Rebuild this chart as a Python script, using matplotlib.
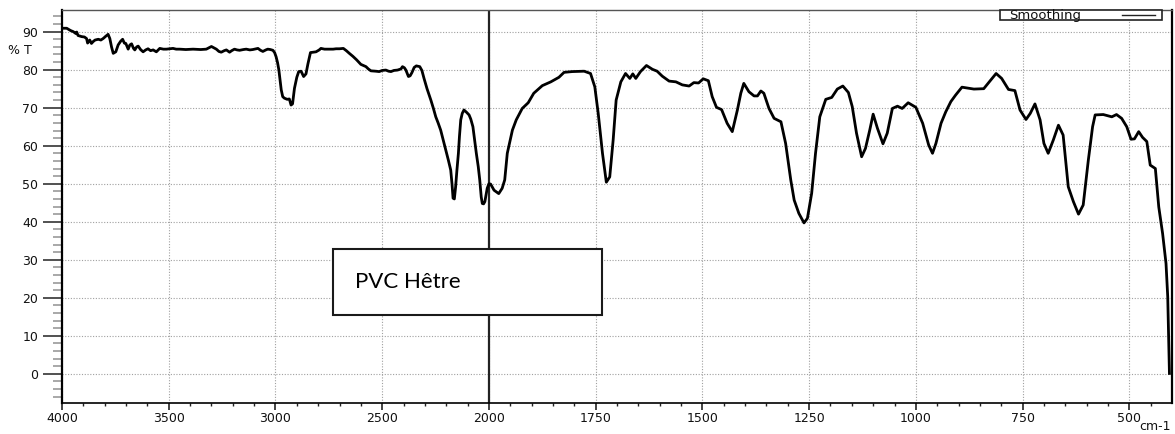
import numpy as np
import matplotlib
matplotlib.use("Agg")
import matplotlib.pyplot as plt
from matplotlib.patches import Rectangle
from matplotlib.ticker import FixedLocator, MultipleLocator

# spectrum: wavenumber (cm-1) and %T
wavenumber = [
    4000, 3978, 3960, 3947, 3935, 3931, 3925, 3908, 3895, 3885, 3880, 3870,
    3862, 3854, 3845, 3830, 3818, 3807, 3795, 3784, 3776, 3768, 3760, 3748,
    3737, 3725, 3716, 3708, 3701, 3690, 3682, 3674, 3665, 3659, 3650, 3643,
    3632, 3620, 3608, 3597, 3585, 3573, 3558, 3542, 3525, 3511, 3495, 3480,
    3465, 3449, 3420, 3386, 3350, 3324, 3300, 3290, 3277, 3265, 3254, 3240,
    3230, 3215, 3205, 3192, 3180, 3168, 3150, 3137, 3120, 3106, 3090, 3082,
    3070, 3059, 3045, 3036, 3024, 3012, 3004, 2997, 2990, 2984, 2978, 2973,
    2966, 2958, 2945, 2935, 2927, 2920, 2911, 2900, 2891, 2880, 2868, 2857,
    2848, 2836, 2822, 2810, 2795, 2787, 2770, 2748, 2730, 2716, 2700, 2682,
    2668, 2654, 2637, 2620, 2600, 2576, 2565, 2553, 2530, 2514, 2500, 2483,
    2470, 2459, 2445, 2428, 2412, 2405, 2396, 2389, 2377, 2369, 2361, 2350,
    2340, 2324, 2314, 2304, 2290, 2272, 2260, 2249, 2238, 2226, 2214, 2202,
    2190, 2179, 2173, 2168, 2162, 2156, 2150, 2143, 2138, 2132, 2125, 2117,
    2105, 2093, 2085, 2075, 2067, 2059, 2050, 2043, 2036, 2031, 2025, 2019,
    2012, 2008, 2000, 1996, 1988, 1977, 1969, 1963, 1957, 1945, 1936, 1922,
    1908, 1895, 1875, 1855, 1836, 1824, 1805, 1777, 1762, 1752, 1744, 1734,
    1725, 1717, 1709, 1702, 1691, 1680, 1670, 1663, 1656, 1645, 1631, 1617,
    1606, 1594, 1578, 1562, 1547, 1531, 1520, 1509, 1498, 1486, 1477, 1467,
    1455, 1442, 1430, 1418, 1410, 1403, 1391, 1379, 1371, 1363, 1356, 1344,
    1332, 1316, 1305, 1293, 1285, 1274, 1262, 1254, 1244, 1235, 1225, 1211,
    1197, 1184, 1171, 1158, 1149, 1139, 1127, 1118, 1108, 1100, 1090, 1077,
    1067, 1055, 1043, 1032, 1018, 1000, 984, 970, 961, 953, 941, 930,
    918, 907, 892, 864, 841, 828, 812, 799, 783, 768, 756, 742,
    732, 721, 709, 700, 690, 678, 666, 655, 643, 631, 619, 608,
    596, 586, 580, 561, 541, 530, 518, 506, 496, 488, 478, 469,
    459, 451, 439, 431, 422, 414, 410, 406,
]
transmittance = [
    90.9, 90.9, 90.3, 90.0, 89.5, 89.9, 89.0, 88.7, 88.6, 88.2, 87.0, 87.8,
    86.9, 87.4, 87.8, 88.0, 87.8, 88.2, 88.8, 89.3, 88.2, 86.0, 84.3, 84.7,
    86.5, 87.5, 88.0, 87.0, 86.9, 85.4, 86.5, 86.8, 85.6, 85.2, 86.0, 86.2,
    85.3, 84.7, 85.2, 85.5, 85.0, 85.2, 84.7, 85.6, 85.4, 85.4, 85.5, 85.6,
    85.4, 85.4, 85.3, 85.4, 85.3, 85.4, 86.1, 85.8, 85.4, 84.8, 84.6, 85.0,
    85.2, 84.6, 85.0, 85.4, 85.2, 85.1, 85.3, 85.4, 85.2, 85.3, 85.5, 85.6,
    85.1, 84.8, 85.2, 85.4, 85.3, 85.1, 84.5, 83.4, 81.8, 79.9, 77.0, 74.7,
    72.9, 72.5, 72.2, 72.3, 70.7, 71.0, 75.1, 78.0, 79.5, 79.6, 78.2, 78.9,
    81.5, 84.5, 84.6, 84.7, 85.2, 85.6, 85.4, 85.4, 85.4, 85.5, 85.5, 85.6,
    85.0, 84.3, 83.5, 82.6, 81.4, 80.8, 80.2, 79.7, 79.6, 79.5, 79.8, 79.9,
    79.6, 79.5, 79.8, 79.9, 80.2, 80.8, 80.5, 79.9, 78.2, 78.4, 79.2, 80.6,
    81.0, 80.8, 79.8, 77.7, 75.0, 72.0, 69.8, 67.6, 66.0, 64.1, 61.5, 58.9,
    56.2, 53.6, 50.0, 46.2, 46.0, 49.2, 53.5, 58.0, 62.5, 66.8, 68.5, 69.4,
    68.8, 68.1, 67.0, 65.0, 61.5, 58.0, 54.5, 51.0, 46.5, 44.8, 44.7, 45.3,
    47.5, 48.8, 50.0, 49.9, 48.3, 47.4, 48.8, 51.0, 58.0, 64.1, 66.8, 69.8,
    71.3, 73.8, 75.8, 76.8, 78.0, 79.3, 79.5, 79.6, 79.0, 75.5, 68.5, 58.0,
    50.4, 51.8, 61.5, 72.0, 76.8, 79.0, 77.7, 78.9, 77.7, 79.5, 81.1, 80.1,
    79.6, 78.3, 77.0, 76.8, 76.0, 75.7, 76.6, 76.5, 77.6, 77.1, 72.9, 70.1,
    69.5, 65.9, 63.7, 69.4, 73.8, 76.4, 74.2, 73.1, 73.1, 74.4, 73.8, 69.8,
    67.2, 66.3, 60.6, 51.0, 45.7, 42.2, 39.7, 40.9, 47.5, 58.0, 67.6, 72.2,
    72.7, 74.9, 75.7, 74.0, 70.3, 63.3, 57.1, 59.3, 64.1, 68.3, 64.6, 60.5,
    63.3, 69.8, 70.4, 69.8, 71.3, 70.1, 65.9, 60.2, 58.0, 60.6, 65.9, 68.9,
    71.6, 73.3, 75.4, 74.9, 75.0, 76.8, 79.0, 77.7, 74.8, 74.5, 69.4, 66.9,
    68.5, 71.0, 66.8, 60.6, 58.0, 61.5, 65.4, 62.8, 49.2, 45.3, 42.0, 44.4,
    56.2, 65.0, 68.1, 68.2, 67.6, 68.2, 67.2, 65.0, 61.7, 61.8, 63.7, 62.2,
    61.1, 54.9, 54.0, 43.9, 36.9, 29.0, 20.3, 0.1,
]

x_major = [4000, 3500, 3000, 2500, 2000, 1750, 1500, 1250, 1000, 750, 500]
x_minor = list(range(3900, 2000, -100)) + list(range(1950, 400, -50))
y_major = [0, 10, 20, 30, 40, 50, 60, 70, 80, 90]


# scale is expanded x2 below 2000 cm-1
def forward(x):
    x = np.asarray(x, dtype=float)
    return np.where(x >= 2000, x, 2 * x - 2000)


def inverse(u):
    u = np.asarray(u, dtype=float)
    return np.where(u >= 2000, u, (u + 2000) / 2)


fig = plt.figure(figsize=(11.75, 4.34), dpi=100)
ax = fig.add_axes([62 / 1175, 31.3 / 434, 1110 / 1175, 392.7 / 434])

ax.set_xscale('function', functions=(forward, inverse))
ax.set_xlim(4000, 400)
ax.set_ylim(-7.6, 95.7)

ax.plot(wavenumber, transmittance, color='black', lw=2.0, zorder=3)

ax.xaxis.set_major_locator(FixedLocator(x_major))
ax.xaxis.set_minor_locator(FixedLocator([m for m in x_minor if m not in x_major]))
ax.set_xticklabels([str(v) for v in x_major])
ax.yaxis.set_major_locator(FixedLocator(y_major))
ax.yaxis.set_minor_locator(MultipleLocator(2))

ax.grid(True, which='major', color='#a0a0a0', lw=0.8, linestyle=(0, (1, 1.5)))
ax.axvline(2000, color='#222222', lw=1.6, zorder=2)

ax.tick_params(axis='y', which='major', length=14, width=1.2, color='#333333',
               pad=3, labelsize=9, labelcolor='#111111')
ax.tick_params(axis='y', which='minor', length=6.5, width=1.2, color='#999999')
ax.tick_params(axis='x', which='major', length=5, width=1.2, color='#222222',
               pad=2, labelsize=9, labelcolor='#111111')
ax.tick_params(axis='x', which='minor', length=2.5, width=1.0, color='#222222')

ax.spines['left'].set_linewidth(1.6)
ax.spines['right'].set_linewidth(1.6)
ax.spines['bottom'].set_linewidth(1.2)
ax.spines['top'].set_color('#555555')
ax.spines['top'].set_linewidth(1.0)

# "Smoothing" legend hanging from the top frame
ax.add_patch(Rectangle((0.845, 0.975), 0.146, 0.025, transform=ax.transAxes,
                       facecolor='white', edgecolor='#222222', lw=1.2,
                       zorder=4, clip_on=False))
ax.text(0.853, 0.986, 'Smoothing', transform=ax.transAxes, fontsize=9.5,
        va='center', ha='left', color='#111111', zorder=5)
ax.plot([0.955, 0.985], [0.988, 0.988], transform=ax.transAxes,
        color='#222222', lw=1.0, zorder=5)

# sample label box
ax.add_patch(Rectangle((0.244, 0.223), 0.2425, 0.168, transform=ax.transAxes,
                       facecolor='white', edgecolor='#1a1a1a', lw=1.5, zorder=6))
ax.text(0.264, 0.307, 'PVC Hêtre', transform=ax.transAxes, fontsize=16,
        family='Lato', va='center', ha='left', color='black', zorder=7)

fig.text(8 / 1175, 1 - 50 / 434, '% T', fontsize=9, va='center', ha='left',
         color='#111111')
fig.text(1171 / 1175, 1 - 427 / 434, 'cm-1', fontsize=9, va='center',
         ha='right', color='#111111')

fig.savefig('out.png', dpi=100)
